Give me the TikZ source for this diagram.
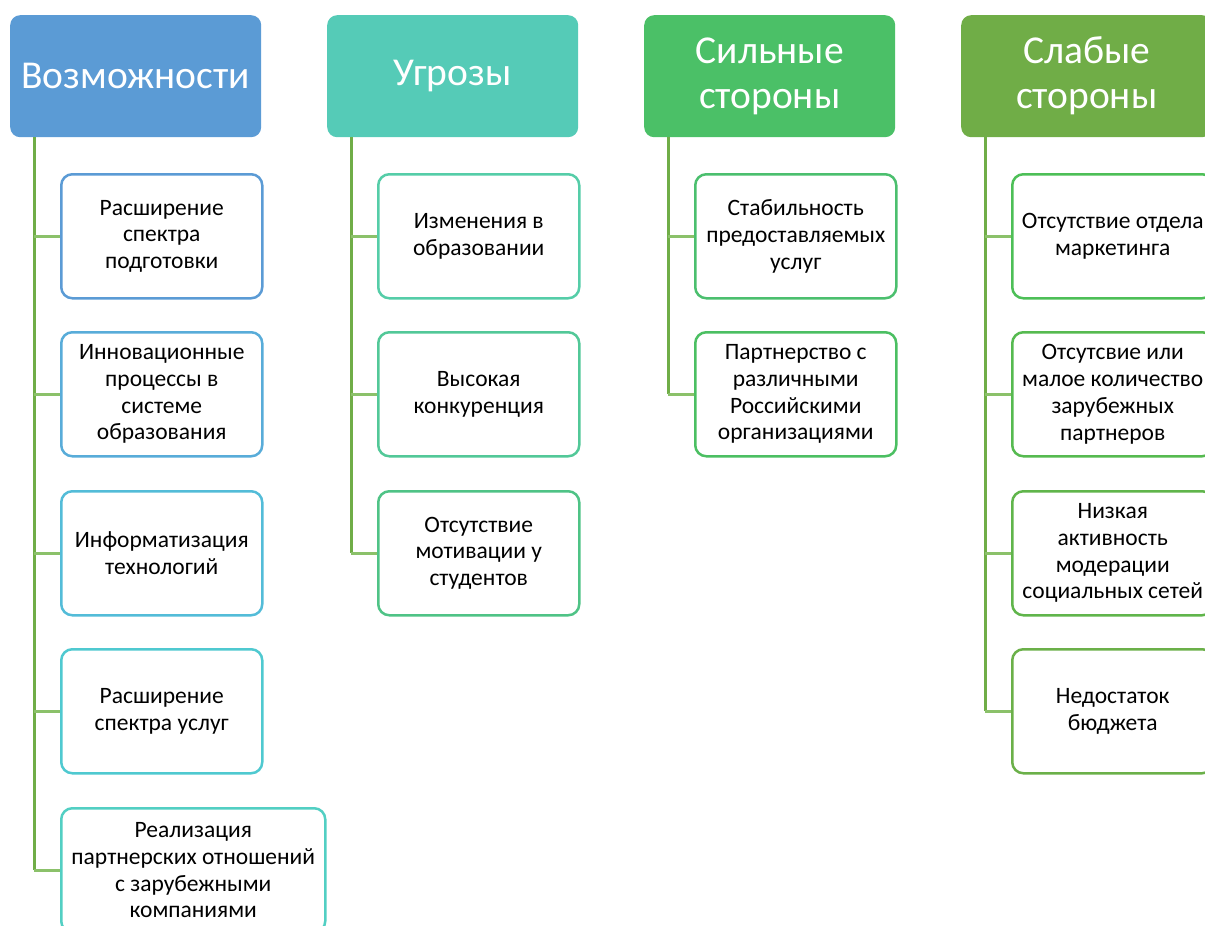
\documentclass[tikz,border=0pt]{standalone}
\usepackage{fontspec}
\setmainfont{Carlito}
\usepackage{xcolor}

\definecolor{tituloA}{HTML}{5B9BD5}
\definecolor{tituloB}{HTML}{55CBB7}
\definecolor{tituloC}{HTML}{4BC067}
\definecolor{tituloD}{HTML}{70AD47}
\definecolor{bordeA}{HTML}{5B9BD5}
\definecolor{bordeB}{HTML}{58ACD9}
\definecolor{bordeC}{HTML}{53BCD8}
\definecolor{bordeD}{HTML}{4FC9D0}
\definecolor{bordeE}{HTML}{52CFC3}
\definecolor{bordeF}{HTML}{55CDA8}
\definecolor{bordeG}{HTML}{52C898}
\definecolor{bordeH}{HTML}{4FC386}
\definecolor{bordeI}{HTML}{4BBF6E}
\definecolor{bordeJ}{HTML}{4BBF62}
\definecolor{bordeK}{HTML}{4DBF57}
\definecolor{bordeL}{HTML}{56BA50}
\definecolor{bordeM}{HTML}{60B54B}
\definecolor{bordeN}{HTML}{6BB049}
\definecolor{lineaV}{HTML}{70AD47}
\definecolor{ramaV}{HTML}{8BC16A}

\begin{document}
\begin{tikzpicture}[x=1pt,y=-1pt,
    titulo/.style={rounded corners=10pt, minimum width=251pt, minimum height=122pt,
      anchor=north west, inner sep=0pt, text=white, align=center,
      font=\fontsize{39.5}{45}\selectfont},
    caja/.style={draw, line width=2.5pt, rounded corners=11pt, fill=white,
      minimum width=201pt, minimum height=124pt, anchor=north west, inner sep=0pt,
      align=center, font=\fontsize{23.5}{26.7}\selectfont},
    tronco/.style={draw=lineaV, line width=3pt},
    rama/.style={draw=ramaV, line width=3pt}]

    % Paso 1: Fija el marco del dibujo
    \useasboundingbox (0,0) rectangle (1205,926);
    \clip (0,0) rectangle (1205,926);

    % Paso 2: Encabezados de las cuatro columnas
    \node[titulo, fill=tituloA] (V) at (10,15) {Возможности};
    \node[titulo, fill=tituloB] (U) at (327,15) {Угрозы};
    \node[titulo, fill=tituloC] (S) at (644,15) {Сильные\\стороны};
    \node[titulo, fill=tituloD] (W) at (961,15) {Слабые\\стороны};

    % Paso 3: Cajas de la columna Возможности
    \node[caja, draw=bordeA] (V1) at (60,173) {Расширение\\спектра\\подготовки};
    \node[caja, draw=bordeB] (V2) at (60,331) {Инновационные\\процессы в\\системе\\образования};
    \node[caja, draw=bordeC] (V3) at (60,490) {Информатизация\\технологий};
    \node[caja, draw=bordeD] (V4) at (60,648) {Расширение\\спектра услуг};
    \node[caja, draw=bordeE, minimum width=264pt] (V5) at (60,807)
      {Реализация\\партнерских отношений\\с зарубежными\\компаниями};

    % Paso 4: Cajas de la columna Угрозы
    \node[caja, draw=bordeF] (U1) at (377,173) {Изменения в\\образовании};
    \node[caja, draw=bordeG] (U2) at (377,331) {Высокая\\конкуренция};
    \node[caja, draw=bordeH] (U3) at (377,490) {Отсутствие\\мотивации у\\студентов};

    % Paso 5: Cajas de la columna Сильные стороны
    \node[caja, draw=bordeI] (S1) at (694,173) {Стабильность\\предоставляемых\\услуг};
    \node[caja, draw=bordeJ] (S2) at (694,331) {Партнерство с\\различными\\Российскими\\организациями};

    % Paso 6: Cajas de la columna Слабые стороны
    \node[caja, draw=bordeK] (W1) at (1011,173) {Отсутствие отдела\\маркетинга};
    \node[caja, draw=bordeL] (W2) at (1011,331) {Отсутсвие или\\малое количество\\зарубежных\\партнеров};
    \node[caja, draw=bordeM] (W3) at (1011,490) {Низкая\\активность\\модерации\\социальных сетей};
    \node[caja, draw=bordeN] (W4) at (1011,648) {Недостаток\\бюджета};

    % Paso 7: Troncos verticales bajo cada encabezado
    \coordinate (Vt) at ([xshift=24pt]V.south west);
    \coordinate (Ut) at ([xshift=24pt]U.south west);
    \coordinate (St) at ([xshift=24pt]S.south west);
    \coordinate (Wt) at ([xshift=24pt]W.south west);
    \draw[tronco] (Vt) -- (Vt |- V5.west);
    \draw[tronco] (Ut) -- (Ut |- U3.west);
    \draw[tronco] (St) -- (St |- S2.west);
    \draw[tronco] (Wt) -- (Wt |- W4.west);

    % Paso 8: Ramas horizontales hacia cada caja
    \draw[rama] (Vt |- V1.west) -- (V1.west);
    \draw[rama] (Vt |- V2.west) -- (V2.west);
    \draw[rama] (Vt |- V3.west) -- (V3.west);
    \draw[rama] (Vt |- V4.west) -- (V4.west);
    \draw[rama] (Vt |- V5.west) -- (V5.west);
    \draw[rama] (Ut |- U1.west) -- (U1.west);
    \draw[rama] (Ut |- U2.west) -- (U2.west);
    \draw[rama] (Ut |- U3.west) -- (U3.west);
    \draw[rama] (St |- S1.west) -- (S1.west);
    \draw[rama] (St |- S2.west) -- (S2.west);
    \draw[rama] (Wt |- W1.west) -- (W1.west);
    \draw[rama] (Wt |- W2.west) -- (W2.west);
    \draw[rama] (Wt |- W3.west) -- (W3.west);
    \draw[rama] (Wt |- W4.west) -- (W4.west);
\end{tikzpicture}
\end{document}
